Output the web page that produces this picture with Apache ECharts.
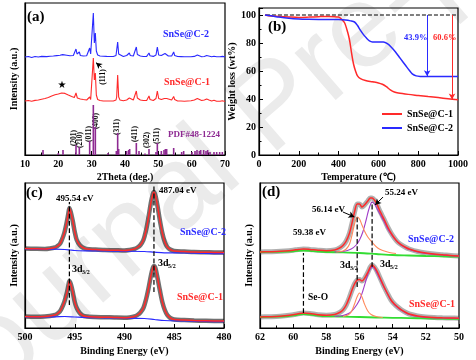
<!DOCTYPE html>
<html><head><meta charset="utf-8">
<script src="https://cdn.jsdelivr.net/npm/echarts@6/dist/echarts.min.js"></script>
<style>html,body{margin:0;padding:0;background:#fff}#c{width:476px;height:360px}</style>
</head><body><div id="c"></div>
<script>
// ---------- DATA ----------
// (a) XRD
const xrdC2 = [[10,98],[11,98.5],[12,97.5],[13,98.5],[14,98],[15,98.6],[15.3,99.5],[15.6,98.2],[16.5,98.4],[17.5,98.8],[18.5,99],[19.5,99.4],[20.5,99.8],[21.3,100.4],[21.5,99.5],[22.5,99.8],[23.5,99.3],[24.5,99.5],[25,101],[25.3,106],[25.6,101],[26,100],[26.3,103],[26.6,99.5],[27.5,99],[28.5,99.2],[29.1,101],[29.4,107],[29.7,101],[30.1,102],[30.5,142],[30.8,112],[31.1,122],[31.4,104],[31.8,100],[32.5,99],[33.5,98.8],[34.5,98.6],[35,99.5],[35.5,98.5],[36.5,98.5],[37.3,99.5],[37.5,101],[37.8,113],[38.1,101],[38.5,99],[39.5,98.5],[40.5,99.5],[41,100],[41.3,102],[41.6,99.5],[42.5,99],[43.1,100],[43.4,108],[43.7,100.5],[44.2,100],[44.6,99],[45.5,98.5],[46.5,98.6],[47,99.5],[47.2,102],[47.5,99.2],[48.5,98.6],[49.3,100],[49.7,108],[50.1,100],[50.9,99.5],[51.3,99.8],[52,101.5],[52.5,100.5],[53,99],[54,99],[54.4,100],[54.6,103],[54.9,99.5],[55.8,98.5],[56.8,98.4],[57.2,99],[57.8,98.2],[58.8,98.2],[59.8,98.2],[60.8,98.6],[61.3,99.5],[61.7,100],[62.3,99],[63,98.3],[63.8,98.5],[64.5,99.5],[65,98.6],[66,98.3],[66.7,98.8],[67.5,98.2],[68.5,98.3],[69.2,98.6],[70,98.2]];
const xrdC1 = [[10,54],[11,54.5],[12,53.8],[13,54.6],[14,55],[15,55.8],[15.4,57],[16,56.5],[17,57.5],[18,59],[19,60.2],[20,61],[20.5,61.5],[21,62],[21.5,61.2],[22,61.6],[22.5,60.8],[23,60],[24,58.5],[24.8,57.5],[25.3,62],[25.7,57],[26.3,58],[26.6,56],[27.5,55.5],[28.5,55],[29.1,56],[29.4,58],[29.7,55.5],[30.1,57],[30.5,97],[30.8,75],[31.1,82],[31.4,60],[31.8,55.5],[32.5,54.5],[33.5,54],[34.5,54],[35,55],[35.5,54],[36.5,54],[37.3,55],[37.5,58],[37.8,80],[38.1,58],[38.5,55],[39.5,54.3],[40.5,55],[41,55.5],[41.3,57],[41.6,55.5],[42.5,55],[43.1,57],[43.4,64],[43.7,57],[44.2,56],[44.6,55],[45.5,54.5],[46.5,54.5],[47,56],[47.2,59],[47.5,55.5],[48.5,54.5],[49.3,56.5],[49.7,64],[50.1,56.5],[50.9,55.5],[51.3,56],[51.8,56.5],[52.1,57.5],[52.5,56.5],[53,55],[54,55],[54.4,56],[54.6,58.5],[54.9,55.5],[55.8,54],[56.8,54],[57.2,54.8],[57.8,53.8],[58.8,54],[59.8,54.2],[60.8,55],[61.3,56],[61.7,56.5],[62.3,55.5],[63,54.5],[63.8,55],[64.5,56],[64.8,56.2],[65.2,55],[66,54],[66.7,54.8],[67.5,53.8],[68.5,53.8],[69.2,54.2],[70,53.5]];
const xrdPdf = [[15.4,5],[20.0,2],[21.4,5],[25.3,10],[26.3,8],[29.4,14],[30.5,50],[31.1,28],[34.9,2],[37.4,4],[37.8,22],[38.1,6],[40.5,4],[41.1,5],[41.4,6],[43.4,12],[44.2,4],[46.0,1.5],[47.2,6],[49.3,3],[49.7,12],[50.9,4],[51.7,5],[52.1,6],[52.5,6],[54.6,7],[57.0,3],[57.6,4],[60.1,3],[61.0,4],[61.6,5],[62.3,4],[62.7,5],[63.6,5],[64.3,4],[64.8,5],[65.5,3],[66.7,3],[67.5,3],[68.4,3],[69.2,3]];
const pdfLabels = ['(201)','(210)','(011)','(400)','(311)','(411)','(302)','(511)'];

// (b) TGA
const tgaC1 = [[30,100],[60,99.3],[100,99],[150,98.6],[200,98.3],[250,98.5],[300,98.8],[350,99],[400,98.5],[415,97],[430,94.5],[445,88],[455,82],[465,73],[475,65],[485,60],[495,56.5],[510,54.5],[535,53.2],[570,52.3],[600,51.5],[620,50.5],[640,48.8],[660,46.5],[680,45],[700,44.3],[750,43.3],[800,42.5],[850,41.7],[900,41],[950,40.2],[1000,39.4]];
const tgaC2 = [[30,100],[60,99.5],[100,98.5],[150,97.6],[200,97.1],[250,96.9],[300,96.8],[350,96.8],[400,96.7],[435,96.4],[460,95.8],[480,95],[495,92.5],[510,89],[525,86],[540,83.5],[555,81.5],[570,80.8],[600,80.8],[625,80.7],[645,79.5],[665,77],[685,73.8],[710,69],[735,64.3],[755,60.5],[770,58],[790,56.5],[810,56.1],[850,56],[900,56.1],[1000,56.1]];
const tgaLoss = ['43.9%','60.6%'];

// (c) Sn 3d XPS
const snFitC2 = [[500,79.5],[499,79.2],[498,79],[497.5,79.5],[497,80.5],[496.8,81.5],[496.5,84],[496.3,88],[496.05,95],[495.8,106],[495.65,114],[495.54,120],[495.4,116],[495.2,107],[495,96],[494.8,88],[494.5,83],[494.2,80.5],[493.8,79],[493,78.5],[492,78],[491,77.8],[490,77.5],[489.5,78],[489,79],[488.7,80.5],[488.4,83],[488.1,88],[487.85,97],[487.6,110],[487.35,125],[487.15,134],[487.04,136],[486.9,133],[486.7,123],[486.45,108],[486.2,95],[485.95,86],[485.7,81],[485.4,78.5],[485,77],[484,76.5],[483,76],[482,75.8],[481,75.6],[480,75.5]];
const snBgC2 = [[500,79],[497,78.8],[496,78.5],[495.5,78],[495,77.5],[494,77.2],[492,77],[490,76.8],[488,76.5],[487,75.8],[486,75.2],[484,75],[482,74.6],[480,74.3]];
const snFitC1 = [[500,11.5],[499,11.3],[498,11.5],[497.5,12],[497,13],[496.8,14],[496.5,16.5],[496.3,20],[496.05,26],[495.8,35],[495.65,42],[495.54,47],[495.4,44],[495.2,36],[495,26],[494.8,20],[494.5,15],[494.2,12.5],[493.8,11.5],[493,11],[492,10.8],[491,10.5],[490,10.3],[489.5,10.6],[489,11.5],[488.7,13],[488.4,15.5],[488.1,20],[487.85,28],[487.6,39],[487.35,52],[487.15,60],[487.04,62],[486.9,60],[486.7,51],[486.45,38],[486.2,26],[485.95,18],[485.7,13],[485.4,10],[485,8.5],[484,8],[483,7.5],[482,7.2],[481,7],[480,7]];
const snBgC1 = [[500,11],[497,11.2],[496,11.5],[495,11],[494,10.5],[492,10.2],[490,10],[488,9.5],[487,8.5],[486,7.5],[484,7],[482,6.5],[480,6.3]];
const snPeaks = [495.54, 487.04];

// (d) Se 3d XPS
const seFitC2 = [[62,76],[61.5,76.3],[61,76.5],[60.5,77],[60,77.8],[59.7,78.5],[59.38,79],[59,78.6],[58.5,77.8],[58,77.3],[57.5,78],[57.2,80],[57,82.5],[56.8,87],[56.6,95],[56.45,105],[56.3,116],[56.14,124],[56,124],[55.85,121],[55.7,123],[55.5,127],[55.35,130],[55.24,130],[55.1,128],[54.95,124],[54.8,118],[54.65,113],[54.5,108],[54.3,101],[54.1,95],[53.9,90],[53.7,86],[53.5,83.5],[53.2,80.5],[53,79],[52.5,76.5],[52,75],[51.5,74],[51,73.3],[50.5,72.5],[50,72]];
const seOrC2 = [[57.4,76],[57,77],[56.8,79],[56.6,84],[56.45,93],[56.3,104],[56.14,111],[56,109],[55.85,103],[55.7,97],[55.5,91],[55.2,85],[54.9,80],[54.6,77.5],[54.2,75.5],[53.8,74.5]];
const sePuC2 = [[57.5,76],[57,76.5],[56.5,79],[56.2,83],[56,88],[55.8,96],[55.6,108],[55.45,118],[55.3,125],[55.24,126],[55.1,124],[54.9,118],[54.7,112],[54.5,106],[54.3,99],[54.1,94],[53.9,89.5],[53.7,86],[53.5,83],[53.2,80],[53,78.5],[52.5,76],[52,74.5],[51.5,73.5],[51,73],[50.5,72.3],[50,71.8]];
const seGrC2 = [[62,76],[61,76.2],[60,76.6],[59.38,77.5],[58.8,76.8],[58,76],[57,75.6],[56,75],[55,74],[54,73],[53,72.5],[52,72],[51,71.6],[50,71.3]];
const seFitC1 = [[62,11],[61.5,11.3],[61,11.5],[60.5,12.2],[60,13.2],[59.7,14.2],[59.38,15],[59,14.5],[58.5,13.3],[58,12.8],[57.5,13.5],[57.2,15.5],[57,18],[56.8,23],[56.6,31],[56.45,38],[56.3,44],[56.14,48],[56,48.5],[55.85,47],[55.7,49.5],[55.5,55.5],[55.35,61],[55.24,63],[55.1,61],[54.95,57],[54.8,51.5],[54.65,46],[54.5,40.5],[54.3,34],[54.1,28],[53.9,24],[53.7,21],[53.5,18.5],[53.2,15.5],[53,14],[52.5,12],[52,11],[51.5,10.5],[51,10.2],[50.5,10],[50,9.8]];
const seOrC1 = [[57,11.5],[56.7,13],[56.5,16],[56.3,24],[56.15,31],[56,35],[55.85,31],[55.7,24],[55.5,17],[55.3,13.5],[55,11.5],[54.6,10.5]];
const sePuC1 = [[57.5,11.5],[57,12.5],[56.6,15],[56.3,20],[56,28],[55.8,37],[55.6,48],[55.45,56],[55.3,60],[55.24,61],[55.1,59.5],[54.95,55],[54.8,50],[54.65,45],[54.5,40],[54.3,33.5],[54.1,27.5],[53.9,23.5],[53.7,20.5],[53.5,18],[53.2,15],[53,13.5],[52.5,11.5],[52,10.6],[51,10],[50,9.6]];
const seGrC1 = [[62,11],[61,11.3],[60.3,12],[59.8,13],[59.38,13.8],[59,13.4],[58.5,12.4],[58,11.8],[57,11.4],[56,11],[55,10.5],[54,10.2],[53,9.9],[52,9.6],[51,9.3],[50,9.1]];
const sePeaks = [59.38, 56.14, 55.24];

// ---------- CHART ----------
const FF = '"Liberation Serif", "Times New Roman", serif';
const RED = '#ff2a2a', BLUE = '#2a2aff', PUR = '#8e2a92', BLK = '#000';
const chart = echarts.init(document.getElementById('c'));

function xAx(gi, min, max, interval, name, inverse, gap){
  return {type:'value', gridIndex:gi, min, max, interval, inverse:!!inverse,
    name, nameLocation:'middle', nameGap:gap,
    nameTextStyle:{fontFamily:FF, fontWeight:'bold', fontSize:10, color:BLK},
    axisLine:{show:true, onZero:false, lineStyle:{color:BLK, width:1.2}},
    axisTick:{show:true, inside:true, length:4, lineStyle:{color:BLK, width:1}},
    minorTick:{show:true, splitNumber:2, length:2.5, lineStyle:{color:BLK, width:1}},
    axisLabel:{margin:4, color:BLK, fontFamily:FF, fontWeight:'bold', fontSize:10, formatter:v=>String(v)},
    splitLine:{show:false}};
}
function yInt(gi, max, gap){
  return {type:'value', gridIndex:gi, min:0, max, name:'Intensity (a.u.)', nameLocation:'middle', nameGap:gap, nameRotate:90,
    nameTextStyle:{fontFamily:FF, fontWeight:'bold', fontSize:10, color:BLK},
    axisLine:{show:true, onZero:false, lineStyle:{color:BLK, width:1.2}},
    axisTick:{show:false}, axisLabel:{show:false}, splitLine:{show:false}};
}
function ln(name, data, xi, color, width, extra){
  return Object.assign({type:'line', name, data, xAxisIndex:xi, yAxisIndex:xi, showSymbol:false, symbol:'none',
    lineStyle:{color, width}, itemStyle:{color}, silent:true, animation:false}, extra||{});
}
function vline(x, y1, y2){ return [[x,y1],[x,y2]]; }
function txt(text, x, y, color, size, extra){
  return Object.assign({type:'text', x, y, style:{text, fill:color, font:'bold '+size+'px '+FF, align:'left', verticalAlign:'middle'}}, extra||{});
}
function rtxt(text, x, y, color, size){
  return {type:'text', x, y, rotation:Math.PI/2, style:{text, fill:color, font:'bold '+size+'px '+FF, align:'center', verticalAlign:'middle'}};
}
function arrowML(p1, p2, color){
  return {silent:true, symbol:['none','arrow'], symbolSize:[5,6], label:{show:false},
    lineStyle:{color, width:1, type:'solid'}, data:[[{coord:p1},{coord:p2}]], animation:false};
}
const DSH = {color:BLK, width:1.2, type:'dashed'};

const option = {
  animation:false,
  backgroundColor:'#fff',
  grid:[
    {left:25, top:3, width:200, height:152, show:true, borderColor:BLK, borderWidth:1.2},
    {left:259, top:8, width:199, height:147, show:true, borderColor:BLK, borderWidth:1.2},
    {left:25, top:183, width:199, height:145, show:true, borderColor:BLK, borderWidth:1.2},
    {left:260, top:183, width:199, height:145, show:true, borderColor:BLK, borderWidth:1.2}
  ],
  xAxis:[
    xAx(0, 10, 70, 10, '2Theta (deg.)', false, 17),
    xAx(1, 0, 1000, 200, 'Temperature (℃)', false, 17),
    xAx(2, 480, 500, 5, 'Binding Energy (eV)', true, 18),
    xAx(3, 50, 62, 2, 'Binding Energy (eV)', true, 18)
  ],
  yAxis:[
    yInt(0, 152, 6),
    {type:'value', gridIndex:1, min:0, max:105, interval:20, name:'Weight loss (wt%)', nameLocation:'middle', nameGap:14, nameRotate:90,
      nameTextStyle:{fontFamily:FF, fontWeight:'bold', fontSize:10, color:BLK},
      axisLine:{show:true, onZero:false, lineStyle:{color:BLK, width:1.2}},
      axisTick:{show:true, inside:true, length:4, lineStyle:{color:BLK}},
      minorTick:{show:true, splitNumber:2, length:2.5, lineStyle:{color:BLK}},
      axisLabel:{margin:3, color:BLK, fontFamily:FF, fontWeight:'bold', fontSize:10, formatter:v=> (v%20===0 ? String(v) : '')},
      splitLine:{show:false}},
    yInt(2, 145, 6),
    yInt(3, 145, 6)
  ],
  legend:{data:['SnSe@C-1','SnSe@C-2'], orient:'vertical', left:377, top:104, itemWidth:20, itemHeight:2, itemGap:4, icon:'rect',
    textStyle:{fontFamily:FF, fontWeight:'bold', fontSize:10, color:BLK}},
  series:[
    // (a)
    {type:'bar', name:'PDF#48-1224', data:xrdPdf, xAxisIndex:0, yAxisIndex:0, barWidth:1.6, itemStyle:{color:PUR}, silent:true, animation:false},
    ln('XRD-C1', xrdC1, 0, RED, 1.1, {markLine:arrowML([33.0,87.7],[31.3,92.3], BLK)}),
    ln('XRD-C2', xrdC2, 0, BLUE, 1.1),
    // (b)
    ln('ref100', [[35,100],[1000,100]], 1, BLK, 1, {lineStyle:{color:BLK, width:1, type:'dashed'}}),
    ln('SnSe@C-1', tgaC1, 1, RED, 1.5, {smooth:0.3, markLine:arrowML([970,100],[970,39.6], RED)}),
    ln('SnSe@C-2', tgaC2, 1, BLUE, 1.5, {smooth:0.3, markLine:arrowML([845,100],[845,56.3], BLUE)}),
    // (c)
    ln('dataC2c', snFitC2, 2, 'rgba(25,25,25,0.62)', 4.5, {smooth:0.3}),
    ln('dataC1c', snFitC1, 2, 'rgba(25,25,25,0.62)', 4.5, {smooth:0.3}),
    ln('bgC2c', snBgC2, 2, BLUE, 1.2, {smooth:0.3}),
    ln('bgC1c', snBgC1, 2, BLUE, 1.2, {smooth:0.3}),
    ln('fitC2c', snFitC2, 2, RED, 1.5, {smooth:0.3}),
    ln('fitC1c', snFitC1, 2, RED, 1.5, {smooth:0.3}),
    ln('d1', vline(snPeaks[0], 23, 126), 2, BLK, 1.2, {lineStyle:DSH}),
    ln('d2', vline(snPeaks[1], 36, 143), 2, BLK, 1.2, {lineStyle:DSH}),
    // (d)
    ln('dataC2d', seFitC2, 3, 'rgba(80,80,80,0.45)', 5, {smooth:0.3}),
    ln('dataC1d', seFitC1, 3, 'rgba(80,80,80,0.45)', 5, {smooth:0.3}),
    ln('grC2', seGrC2, 3, '#33dd33', 1.8, {smooth:0.3}),
    ln('grC1', seGrC1, 3, '#33dd33', 1.8, {smooth:0.3}),
    ln('puC2', sePuC2, 3, '#a03cc8', 1.1, {smooth:0.3}),
    ln('puC1', sePuC1, 3, '#a03cc8', 1.1, {smooth:0.3}),
    ln('orC2', seOrC2, 3, '#ff8a5c', 1.1, {smooth:0.3}),
    ln('orC1', seOrC1, 3, '#ff8a5c', 1.1, {smooth:0.3}),
    ln('fitC2d', seFitC2, 3, RED, 1.5, {smooth:0.3, markLine:{silent:true, symbol:['none','arrow'], symbolSize:[5,6], label:{show:false}, lineStyle:{color:BLK, width:1, type:'solid'},
      data:[[{coord:[57.0,116]},{coord:[56.3,111]}],[{coord:[54.58,131]},{coord:[55.06,123]}]]}}),
    ln('fitC1d', seFitC1, 3, RED, 1.5, {smooth:0.3}),
    ln('e1', vline(sePeaks[0], 15, 75), 3, BLK, 1.2, {lineStyle:DSH}),
    ln('e2', vline(sePeaks[1], 41, 111), 3, BLK, 1.2, {lineStyle:DSH}),
    ln('e3', vline(sePeaks[2], 61, 126), 3, BLK, 1.2, {lineStyle:DSH})
  ],
  graphic:[
    {type:'text', x:-68, y:408, rotation:0.716, z:-100, silent:true, style:{text:'Journal Pre-proof', fill:'#ebebeb', font:'118px "Liberation Sans", sans-serif', align:'left', verticalAlign:'middle'}},
    // (a)
    txt('(a)', 27, 17, BLK, 15),
    txt('SnSe@C-2', 163, 34, BLUE, 10),
    txt('SnSe@C-1', 164, 82, RED, 10),
    txt('PDF#48-1224', 168, 135, PUR, 9),
    txt('★', 62, 85, BLK, 10, {style:{text:'★', fill:BLK, font:'10px "DejaVu Sans"', align:'center', verticalAlign:'middle'}}),
    rtxt('(111)', 103, 77, BLK, 7.5),
    rtxt(pdfLabels[0], 74, 138, BLK, 7.5),
    rtxt(pdfLabels[1], 80, 140, BLK, 7.5),
    rtxt(pdfLabels[2], 89, 134, BLK, 7.5),
    rtxt(pdfLabels[3], 96, 121, BLK, 7.5),
    rtxt(pdfLabels[4], 117, 127, BLK, 7.5),
    rtxt(pdfLabels[5], 135, 134, BLK, 7.5),
    rtxt(pdfLabels[6], 147, 140, BLK, 7.5),
    rtxt(pdfLabels[7], 157, 136, BLK, 7.5),
    // (b)
    txt('(b)', 268, 27, BLK, 15),
    txt(tgaLoss[0], 404, 38, BLUE, 8.5),
    txt(tgaLoss[1], 433, 38, RED, 8.5),
    // (c)
    txt('(c)', 26, 193, BLK, 15),
    txt(snPeaks[0].toFixed(2)+' eV', 56, 199, BLK, 9),
    txt(snPeaks[1].toFixed(2)+' eV', 159, 191, BLK, 9),
    txt('SnSe@C-2', 180, 232, BLUE, 10),
    txt('SnSe@C-1', 177, 297, RED, 10),
    txt('3d', 72, 269, BLK, 10), txt('3/2', 82, 272, BLK, 6),
    txt('3d', 158, 263, BLK, 10), txt('5/2', 168, 266, BLK, 6),
    // (d)
    txt('(d)', 262, 192, BLK, 15),
    txt(sePeaks[0].toFixed(2)+' eV', 293, 233, BLK, 9),
    txt(sePeaks[1].toFixed(2)+' eV', 312, 210, BLK, 9),
    txt(sePeaks[2].toFixed(2)+' eV', 385, 193, BLK, 9),
    txt('SnSe@C-2', 408, 239, BLUE, 10),
    txt('SnSe@C-1', 409, 304, RED, 10),
    txt('3d', 340, 265, BLK, 10), txt('3/2', 350, 268, BLK, 6),
    txt('3d', 380, 264, BLK, 10), txt('5/2', 390, 267, BLK, 6),
    txt('Se-O', 308, 298, BLK, 9.5)
  ]
};
chart.setOption(option);
</script></body></html>
